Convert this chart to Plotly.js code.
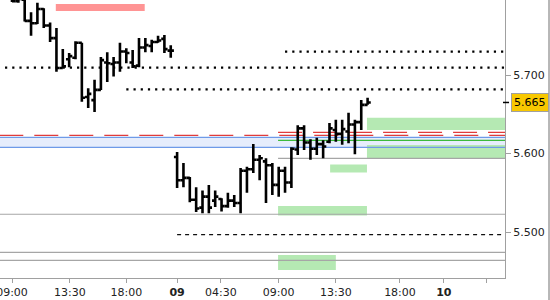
<!DOCTYPE html>
<html><head><meta charset="utf-8">
<script src="https://cdn.plot.ly/plotly-3.0.1.min.js"></script>
<style>html,body{margin:0;padding:0;background:#fff}#c{width:550px;height:300px}</style>
</head><body><div id="c"></div>
<script>
// bar slots (30-minute bars, sessions joined without gaps)
const barIndex = [0,1,2,3,4,5,6,7,8,9,10,11,12,13,14,15,16,17,18,19,20,21,22,23,24,25,
  26,27,28,29,30,31,32,33,34,35,36,37,38,39,40,41,42,43,44,45,46,47,48,49,50,51,52,53,54,55,56];
const openP = [5.800,5.794,5.796,5.769,5.766,5.784,5.763,5.747,5.709,5.720,5.722,5.741,5.672,5.668,5.681,5.716,5.714,5.716,5.730,5.716,5.712,5.735,5.737,5.742,5.746,5.731,
  5.5955,5.566,5.569,5.541,5.531,5.545,5.540,5.542,5.533,5.540,5.537,5.578,5.580,5.592,5.590,5.585,5.560,5.578,5.563,5.605,5.632,5.614,5.606,5.612,5.615,5.630,5.625,5.628,5.637,5.640,5.662];
const highP = [5.803,5.801,5.797,5.780,5.792,5.785,5.767,5.760,5.733,5.728,5.743,5.741,5.683,5.694,5.723,5.729,5.723,5.741,5.734,5.732,5.747,5.747,5.745,5.750,5.751,5.738,
  5.602,5.588,5.570,5.557,5.553,5.560,5.553,5.543,5.550,5.547,5.5815,5.583,5.612,5.598,5.594,5.588,5.583,5.583,5.608,5.636,5.636,5.618,5.620,5.617,5.639,5.643,5.643,5.652,5.643,5.668,5.671];
const lowP = [5.793,5.792,5.768,5.750,5.765,5.760,5.742,5.704,5.709,5.710,5.720,5.666,5.658,5.653,5.681,5.691,5.698,5.704,5.715,5.709,5.710,5.729,5.729,5.741,5.728,5.722,
  5.556,5.557,5.538,5.5255,5.524,5.524,5.532,5.526,5.531,5.532,5.524,5.550,5.575,5.566,5.537,5.547,5.545,5.550,5.556,5.598,5.6045,5.592,5.598,5.594,5.613,5.615,5.611,5.613,5.599,5.630,5.662];
const closeP = [5.794,5.797,5.769,5.766,5.784,5.763,5.747,5.709,5.711,5.724,5.741,5.671,5.676,5.681,5.719,5.715,5.716,5.730,5.728,5.711,5.735,5.738,5.742,5.744,5.733,5.731,
  5.566,5.569,5.541,5.530,5.545,5.531,5.545,5.533,5.540,5.537,5.578,5.580,5.592,5.594,5.585,5.560,5.578,5.563,5.606,5.632,5.614,5.606,5.612,5.609,5.632,5.625,5.631,5.637,5.640,5.662,5.665];

// axis ticks
const xTickSlots = [0, 9.1, 18, 26, 32.9, 42, 51, 61.1, 68, 74.8];
const xTickLabels = ['09:00','13:30','18:00','<b>09</b>','04:30','09:00','13:30','18:00','<b>10</b>',''];
const yTickVals = [5.5, 5.6, 5.7];
const topTickVal = 5.8;

// horizontal levels (price) and zones
const dottedLevels = [5.7297, 5.7093, 5.6818];
const dottedStarts = [43, -1.1, 18];
const redDashLevels = [5.6268, 5.6232];
const redDashStarts = [41.9, -2];
const blueBand = [5.6079, 5.6206];
const greenLevel = 5.6166;
const greyShortLevel = 5.5939;
const greyLevels = [5.5226, 5.4741, 5.4639];
const blackDashLevel = 5.4966;
const redZone = {x: [6.9, 20.9], y: [5.7815, 5.7904]};
const greenZones = [
  {x: [55.9, 78], y: [5.6299, 5.6456]},
  {x: [55.9, 78], y: [5.5939, 5.6108]},
  {x: [50.1, 55.9], y: [5.5758, 5.5860]},
  {x: [41.9, 55.9], y: [5.5210, 5.5331]},
  {x: [41.9, 51.0], y: [5.4516, 5.4707]}
];

const X0 = -1.89, X1 = 77.64, Y0 = 5.4414, Y1 = 5.79554;
const lastPrice = closeP[closeP.length - 1];

const shapes = [];
shapes.push({type:'rect', xref:'x', yref:'y', x0:X0, x1:X1, y0:blueBand[0], y1:blueBand[1], fillcolor:'#e6edfc', line:{width:0}, layer:'below'});
greenZones.forEach(z => shapes.push({type:'rect', xref:'x', yref:'y', x0:z.x[0], x1:Math.min(z.x[1], X1), y0:z.y[0], y1:z.y[1], fillcolor:'#b5e9b3', line:{width:0}, layer:'below'}));
shapes.push({type:'rect', xref:'x', yref:'y', x0:redZone.x[0], x1:redZone.x[1], y0:redZone.y[0], y1:redZone.y[1], fillcolor:'#ff9494', line:{width:0}, layer:'below'});
blueBand.forEach(v => shapes.push({type:'line', xref:'x', yref:'y', x0:X0, x1:X1, y0:v, y1:v, line:{color:'#6e9ae8', width:1.2}, layer:'below'}));
shapes.push({type:'line', xref:'x', yref:'y', x0:41.9, x1:X1, y0:greenLevel, y1:greenLevel, line:{color:'#3cba3c', width:1.2}, layer:'below'});
shapes.push({type:'line', xref:'x', yref:'y', x0:41.9, x1:X1, y0:greyShortLevel, y1:greyShortLevel, line:{color:'#a6a6a6', width:1.2}, layer:'below'});
greyLevels.forEach(v => shapes.push({type:'line', xref:'x', yref:'y', x0:X0, x1:X1, y0:v, y1:v, line:{color:'#a6a6a6', width:1.2}, layer:'below'}));
redDashLevels.forEach((v,i) => shapes.push({type:'line', xref:'x', yref:'y', x0:redDashStarts[i], x1:X1, y0:v, y1:v, line:{color:'#e03c3c', width:1.3, dash:'24px,11px'}, layer:'below'}));
dottedLevels.forEach((v,i) => shapes.push({type:'line', xref:'x', yref:'y', x0:dottedStarts[i], x1:X1, y0:v, y1:v, line:{color:'#000', width:2.2, dash:'2.2px,5px'}, layer:'below'}));
shapes.push({type:'line', xref:'x', yref:'y', x0:26, x1:X1, y0:blackDashLevel, y1:blackDashLevel, line:{color:'#111', width:1.2, dash:'4px,4px'}, layer:'below'});
shapes.push({type:'line', xref:'paper', yref:'y', x0:0.996, x1:1.008, y0:lastPrice, y1:lastPrice, line:{color:'#000', width:1.5}});
shapes.push({type:'line', xref:'paper', yref:'paper', x0:549/505, x1:549/505, y0:-0.08, y1:1, line:{color:'#707070', width:1}});

const tickFont = {family:'DejaVu Sans, Verdana, sans-serif', size:11, color:'#222'};

const trace = {
  type:'ohlc', x:barIndex, open:openP, high:highP, low:lowP, close:closeP,
  increasing:{line:{color:'#000', width:2.6}}, decreasing:{line:{color:'#000', width:2.6}},
  tickwidth:0.5, hoverinfo:'skip', showlegend:false
};

const layout = {
  width:550, height:300,
  margin:{l:0, r:45, t:0, b:22, pad:0},
  paper_bgcolor:'#fff', plot_bgcolor:'#fff',
  showlegend:false,
  xaxis:{type:'linear', range:[X0, X1], tickvals:xTickSlots, ticktext:xTickLabels,
    ticks:'outside', ticklen:4, tickcolor:'#a0a0a0', showline:true, linecolor:'#a0a0a0', linewidth:1,
    showgrid:false, zeroline:false, tickfont:tickFont, ticklabeloverflow:'allow',
    rangeslider:{visible:false}, fixedrange:true},
  yaxis:{side:'right', range:[Y0, Y1], tickvals:yTickVals, tickformat:'.3f',
    ticks:'outside', ticklen:5, tickcolor:'#a0a0a0', showline:true, linecolor:'#a0a0a0', linewidth:1,
    showgrid:false, zeroline:false, tickfont:tickFont, fixedrange:true},
  shapes:shapes,
  annotations:[
    {xref:'paper', yref:'paper', x:1, y:(topTickVal - Y0)/(Y1 - Y0), xanchor:'left', yanchor:'middle', xshift:7,
     text:topTickVal.toFixed(3), showarrow:false, font:tickFont},
    {xref:'paper', yref:'y', x:1, y:lastPrice, xanchor:'left', yanchor:'middle', xshift:6,
     text:lastPrice.toFixed(3), showarrow:false, font:{family:tickFont.family, size:11, color:'#000'},
     bgcolor:'#f8c800', bordercolor:'#a0a0a0', borderwidth:1, borderpad:2}
  ]
};

Plotly.newPlot('c', [trace], layout, {displayModeBar:false, staticPlot:true});
</script></body></html>
